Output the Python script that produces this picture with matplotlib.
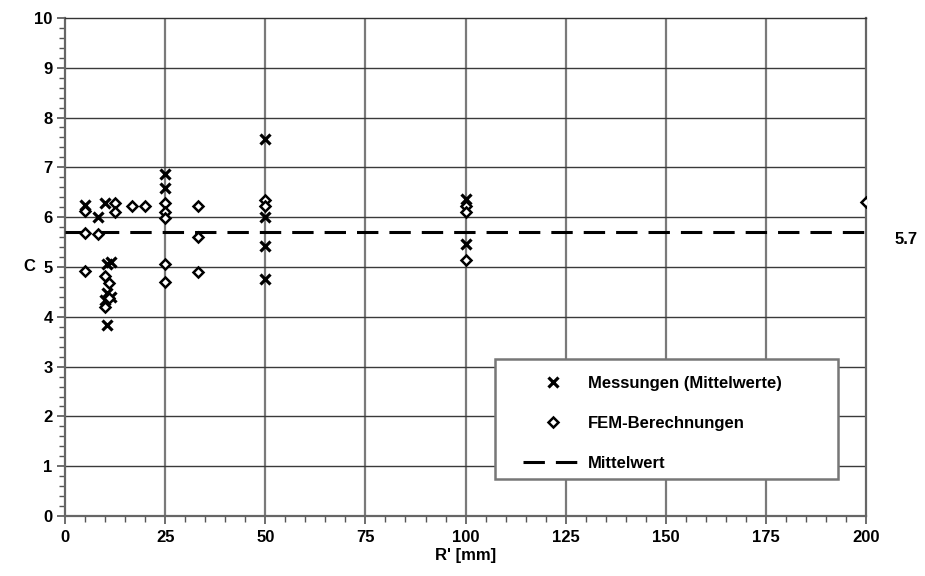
import numpy as np
import matplotlib.pyplot as plt
from matplotlib.ticker import MultipleLocator
from matplotlib.patches import Rectangle

# Messungen (Mittelwerte)
mess_r = [5, 8.3, 10, 10.5, 11.5, 10.5, 11.5, 10, 10.5, 25, 25, 50, 50, 50, 50, 100, 100]
mess_c = [6.25, 6.0, 6.29, 5.06, 5.1, 4.48, 4.4, 4.34, 3.84, 6.87, 6.59, 7.57, 6.0, 5.42, 4.75, 6.36, 5.47]

# FEM-Berechnungen
fem_r = [5, 5, 5, 8.3, 10, 10, 11, 11, 12.5, 12.5, 16.7, 20,
         25, 25, 25, 25, 25, 33.3, 33.3, 33.3, 50, 50, 100, 100, 100, 200]
fem_c = [6.12, 5.68, 4.92, 5.66, 4.82, 4.2, 4.68, 4.38, 6.29, 6.1, 6.23, 6.23,
         6.28, 6.1, 5.98, 5.05, 4.7, 6.23, 5.6, 4.9, 6.35, 6.22, 6.22, 6.1, 5.15, 6.3]

mittelwert = 5.7

plt.rcParams['font.family'] = ['Liberation Sans', 'DejaVu Sans']
plt.rcParams['font.weight'] = 'bold'
fs = 12

fig = plt.figure(figsize=(9.25, 5.76), dpi=100)
ax = fig.add_axes([0.0703, 0.104, 0.866, 0.865])

ax.set_xlim(0, 200)
ax.set_ylim(0, 10)

# grid
for xv in np.arange(25, 200, 25):
    ax.axvline(xv, color='#7a7a7a', lw=1.6, zorder=1)
for yv in np.arange(1, 10):
    ax.axhline(yv, color='#3a3a3a', lw=1.0, zorder=1)

ax.plot([0, 200], [mittelwert, mittelwert], color='black', lw=2.2,
        dashes=(7, 3.6), zorder=3, label='Mittelwert')
ax.text(210, mittelwert - 0.14, '5.7', fontsize=fs, fontweight='bold',
        ha='center', va='center', clip_on=False)

ax.plot(mess_r, mess_c, linestyle='none', marker='x', markersize=6.5,
        markeredgewidth=2.3, color='black', zorder=4,
        label='Messungen (Mittelwerte)')
ax.plot(fem_r, fem_c, linestyle='none', marker='D', markersize=4.6,
        markerfacecolor='white', markeredgecolor='black', markeredgewidth=1.8,
        zorder=5, label='FEM-Berechnungen')

ax.xaxis.set_major_locator(MultipleLocator(25))
ax.xaxis.set_minor_locator(MultipleLocator(5))
ax.yaxis.set_major_locator(MultipleLocator(1))
ax.yaxis.set_minor_locator(MultipleLocator(0.2))
ax.tick_params(which='both', direction='out', color='#555555', labelsize=fs)
ax.tick_params(which='major', length=6, width=1.2)
ax.tick_params(which='minor', length=4, width=1.0)
ax.tick_params(axis='x', pad=4)
ax.tick_params(axis='y', pad=3)
for lab in ax.get_xticklabels() + ax.get_yticklabels():
    lab.set_fontweight('bold')

for side in ['left', 'bottom', 'right']:
    ax.spines[side].set_color('#666666')
    ax.spines[side].set_linewidth(1.6)
ax.spines['top'].set_color('#333333')
ax.spines['top'].set_linewidth(1.0)

ax.set_xlabel("R' [mm]", fontsize=fs, fontweight='bold', labelpad=2)
ax.set_ylabel('C', fontsize=fs, fontweight='bold', rotation=0, va='center')
ax.yaxis.set_label_coords(-0.044, 0.5)

# legend frame drawn separately, content placed inside it
ax.add_patch(Rectangle((0.537, 0.074), 0.428, 0.241, transform=ax.transAxes,
                       facecolor='white', edgecolor='#777777', lw=1.8,
                       zorder=6, clip_on=False))
handles, labels = ax.get_legend_handles_labels()
order = [1, 2, 0]
leg = ax.legend([handles[i] for i in order], [labels[i] for i in order],
                loc='upper left', bbox_to_anchor=(0.572, 0.281),
                borderaxespad=0, borderpad=0, frameon=False, fontsize=fs,
                handlelength=3.6, handletextpad=0.3, labelspacing=1.5)
leg.set_zorder(7)

fig.savefig('out.png', dpi=100)
